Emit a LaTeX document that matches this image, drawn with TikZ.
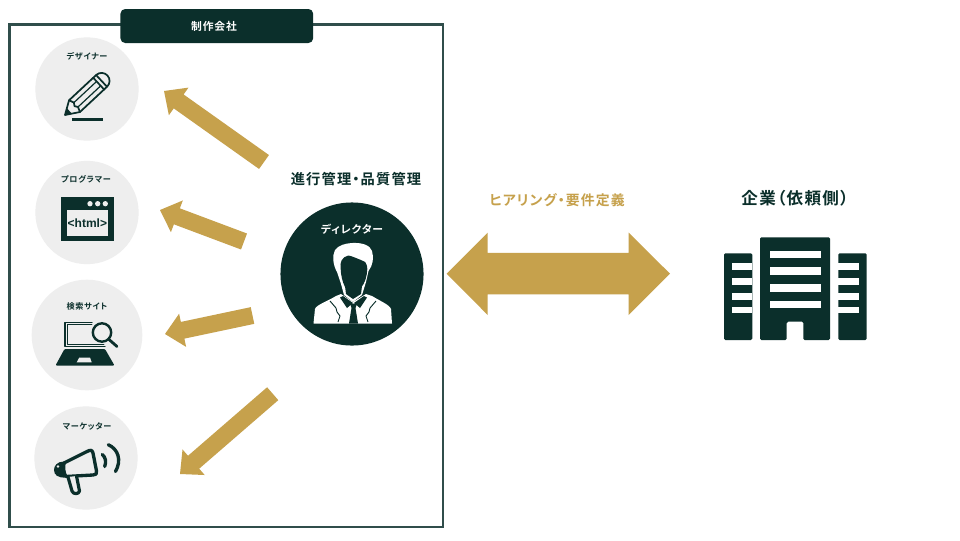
\documentclass[tikz,border=0pt]{standalone}
\usepackage{fontspec}
\usetikzlibrary{calc}
\newfontfamily\jpbs[RawFeature={+palt},LetterSpace=8]{Noto Sans CJK JP Bold}
\newfontfamily\htmlf{Liberation Sans Bold}
\definecolor{dark}{HTML}{0B2F2B}
\definecolor{gold}{HTML}{C6A14C}
\definecolor{pale}{HTML}{EEEEEE}
\tikzset{
  x=.75pt,y=-.75pt,
  member/.style={circle,fill=pale,draw=none,inner sep=0pt},
  smalllabel/.style={text=dark,font=\jpbs\fontsize{6.1}{7}\selectfont,inner sep=0pt},
  biglabel/.style={text=dark,font=\jpbs\fontsize{10.7}{12}\selectfont,inner sep=0pt},
  iconline/.style={draw=dark,line width=1.3pt,line join=round,line cap=round},
}
\newcommand{\blockarrow}[2]{%
  \coordinate (n) at ($(#2)!13.5pt!(#1)$);
  \fill[gold] ($(#1)!6.4pt!90:(#2)$) -- ($(n)!6.4pt!-90:(#1)$) -- ($(n)!12.7pt!-90:(#1)$) -- (#2)
    -- ($(n)!12.7pt!90:(#1)$) -- ($(n)!6.4pt!90:(#1)$) -- ($(#1)!6.4pt!-90:(#2)$) -- cycle;}
\begin{document}
\begin{tikzpicture}
\useasboundingbox (0,0) rectangle (960,540);
\fill[white] (0,0) rectangle (960,540);
% frame and tab
\draw[dark!85!white,line width=1.6pt] (9.5,24.5) rectangle (443,527);
\node[fill=dark,rounded corners=3.5pt,minimum width=144.5pt,minimum height=25.5pt,inner sep=0pt] (tab) at (216.8,26) {};
\node[text=white,font=\jpbs\fontsize{8.1}{9}\selectfont,inner sep=0pt] (tabl) at (214,26) {制作会社};
% member circles
\node[member,minimum size=77.5pt] (c1) at (87,89) {};
\node[member,minimum size=77.5pt] (c2) at (87,212.5) {};
\node[member,minimum size=83pt] (c3) at (87,335) {};
\node[member,minimum size=77.5pt] (c4) at (86,458) {};
\node[smalllabel] (l1) at (87,56.5) {デザイナー};
\node[smalllabel] (l2) at (86,179.5) {プログラマー};
\node[smalllabel] (l3) at (87,306.5) {検索サイト};
\node[smalllabel] (l4) at (87,426.5) {マーケッター};
% pencil
\begin{scope}[shift={(65,115)},rotate=43,x=.75pt,y=.75pt]
  \draw[iconline] (0,0) -- (13,8) -- (50,8) arc (90:-90:8) -- (13,-8) -- cycle;
  \draw[iconline] (13,8) -- (15,3) -- (13,0) -- (15,-3) -- (13,-8);
  \draw[iconline,line width=.9pt] (15,3) -- (45,3);
  \draw[iconline,line width=.9pt] (15,-3) -- (45,-3);
  \draw[iconline] (46,8) -- (46,-8);
  \draw[iconline] (50,8) -- (50,-8);
  \fill[dark] (0,0) -- (6,3.6) -- (6,-3.6) -- cycle;
\end{scope}
\draw[dark,line width=1.9pt] (72,119.5) -- (102.5,119.5);
% html window
\fill[dark] (61,197) rectangle (113.5,241);
\fill[pale] (66.7,210) rectangle (108,235.7);
\foreach \px in {90,97.7,105.3} \fill[pale] (\px,203.7) circle (2pt);
\node[text=dark,font=\htmlf\fontsize{9}{10}\selectfont,inner sep=0pt] (html) at (87.4,222.8) {<html>};
% laptop and lens
\draw[iconline,line width=1pt] (92,322.3) -- (65,322.3) -- (65,346.7) -- (105,346.7);
\draw[iconline,line width=.6pt] (92,324.8) -- (67.5,324.8) -- (67.5,344.5) -- (104,344.5);
\fill[dark,rounded corners=.8pt] (64.5,349) -- (105,349) -- (114.5,365.5) -- (55.5,365.5) -- cycle;
\fill[pale] (79.3,357.5) -- (90,357.5) -- (91.7,362.3) -- (76.7,362.3) -- cycle;
\draw[iconline,line width=1.8pt] (102,332.5) circle (9.2);
\draw[iconline,line width=2.1pt] (109,339.5) -- (117,346.5);
% megaphone
\draw[iconline,line width=2.5pt,fill=pale] (64,463) -- (87,451.5) .. controls (91,449.5) and (92,450) .. (93,453)
  -- (96.5,471) .. controls (97,474) and (96,475) .. (93,475) -- (66,476.5);
\draw[iconline,line width=2.4pt,fill=pale] (68,477) -- (72,491) .. controls (73,494.5) and (79,494.5) .. (79.5,491) -- (76.5,476);
\fill[dark] (64,461.5) .. controls (57,461.5) and (54,466) .. (54,470) .. controls (54,475) and (58,478) .. (66,477.5)
  -- (68,477) .. controls (64.5,472) and (65,466) .. (66,462) -- cycle;
\fill[pale] (58,466.5) circle (1.1pt);
\draw[iconline,line width=2.5pt] (102.3,454.5) .. controls (105.5,457) and (106.5,462) .. (104.7,466.5);
\draw[iconline,line width=2.5pt] (108.3,444.7) .. controls (118,449) and (122,460) .. (115.5,471.5);
% director
\node[circle,fill=dark,minimum size=107.3pt,inner sep=0pt] (dir) at (352,274) {};
\node[text=white,font=\jpbs\fontsize{8.1}{9}\selectfont,inner sep=0pt] (dirl) at (352,229) {ディレクター};
\node[biglabel] (pm) at (356,179.5) {進行管理・品質管理};
% person: shoulders
\fill[white] (313.5,323.5) -- (315,309) .. controls (316,305) and (328,301) .. (336,296) -- (341,294)
  -- (353,302) -- (366,294) -- (372,296) .. controls (380,301) and (390,305) .. (391,309) -- (392,323.5) -- cycle;
% hair and outline of head
\fill[white] (337,272) .. controls (333,265) and (332,256) .. (335,250) .. controls (339,245) and (345,243.5) .. (352,243)
  .. controls (362,242.5) and (370,245) .. (372,251) .. controls (374,258) and (373,265) .. (368.5,271)
  -- (366,282) -- (362,295) -- (353,302) -- (344,295) -- (341,284) -- cycle;
% face and neck
\fill[dark] (340.7,269) .. controls (339.5,262) and (342,257) .. (348.3,255.5) .. controls (352,256) and (358,259) .. (361,260)
  .. controls (364,260.5) and (367,262) .. (367.3,269) .. controls (367,276) and (365,283) .. (361.5,287)
  .. controls (359,293) and (347,293) .. (345,287) .. controls (342,281) and (341,275) .. (340.7,269) -- cycle;
\fill[dark] (345,286) -- (362,286) -- (361,294) -- (353,299) -- (346,294) -- cycle;
% collar, tie, lapels
\fill[dark] (340,297.5) -- (343,296) -- (353,303) -- (347,308) -- cycle;
\fill[dark] (367,297.5) -- (364,296) -- (354,303) -- (360,308) -- cycle;
\fill[dark] (350,303.5) -- (357,303.5) -- (355.5,308) -- (358,323.5) -- (349,323.5) -- (351.5,308) -- cycle;
\draw[dark,line width=.7pt,line join=round] (330,301) -- (336,308) -- (337,312) -- (340,316) -- (338,322);
\draw[dark,line width=.7pt,line join=round] (376,301) -- (370,308) -- (369,312) -- (366,316) -- (368,322);
% building
\fill[dark,rounded corners=1pt] (760,340) -- (760,237.3) -- (830,237.3) -- (830,340) -- (803.3,340) -- (803.3,321.7) -- (786.7,321.7) -- (786.7,340) -- cycle;
\foreach \by in {250.7,267.3,284,300.7} \fill[white] (770,\by) rectangle (820.7,\by+7.7);
\fill[dark,rounded corners=1pt] (724,340) -- (724,253.3) -- (752.3,253.3) -- (752.3,340) -- cycle;
\fill[dark,rounded corners=1pt] (838.3,340) -- (838.3,253.3) -- (866.7,253.3) -- (866.7,340) -- cycle;
\foreach \by in {263.3,278.3,293.3,306.7} {
  \fill[white] (731.7,\by) rectangle (752.3,\by+6.7);
  \fill[white] (838.3,\by) rectangle (859,\by+6.7);
}
\node[biglabel,font=\jpbs\fontsize{12.4}{14}\selectfont] (corp) at (795,198) {企業（依頼側）};
\node[biglabel,text=gold,font=\jpbs\fontsize{10.4}{12}\selectfont] (hear) at (557,200) {ヒアリング・要件定義};
% arrows
\coordinate (t1) at (264,162); \coordinate (h1) at (164,91);
\coordinate (t2) at (244,241.5); \coordinate (h2) at (160,210);
\coordinate (t3) at (252.5,315.5); \coordinate (h3) at (165,334);
\coordinate (t4) at (272.7,393.7); \coordinate (h4) at (180,474);
\blockarrow{t1}{h1}
\blockarrow{t2}{h2}
\blockarrow{t3}{h3}
\blockarrow{t4}{h4}
\coordinate (da) at (446.7,273.7); \coordinate (db) at (670,273.7);
\fill[gold] (da) -- ++(41,-41) -- ++(0,20.2) -- ++(141,0) -- ++(0,-20.2) -- (db) -- ++(-41.3,41.3) -- ++(0,-20.7) -- ++(-141,0) -- ++(0,20.7) -- cycle;
\end{tikzpicture}
\end{document}
